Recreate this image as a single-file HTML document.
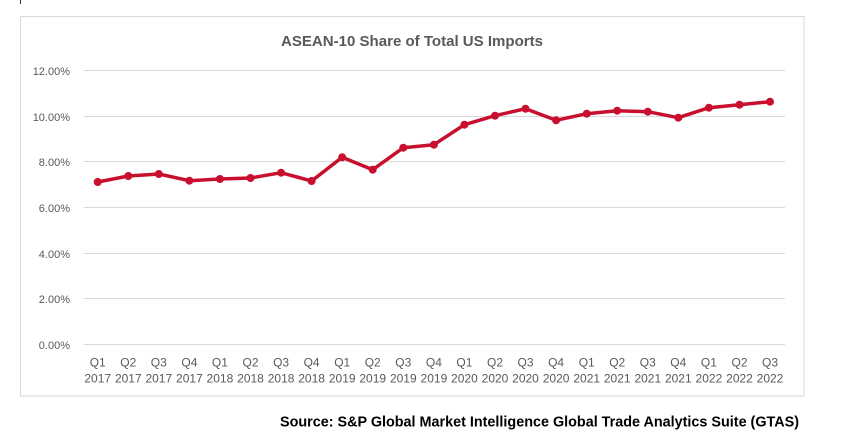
<!DOCTYPE html>
<html>
<head>
<meta charset="utf-8">
<style>
html,body{margin:0;padding:0;background:#fff;}
body{width:843px;height:440px;overflow:hidden;}
svg{display:block;}
</style>
</head>
<body>
<svg width="843" height="440" viewBox="0 0 843 440" xmlns="http://www.w3.org/2000/svg">
  <rect x="0" y="0" width="843" height="440" fill="#fff"/>
  <line x1="20.5" y1="0" x2="20.5" y2="4" stroke="#333" stroke-width="1"/>
  <rect x="20.5" y="16.5" width="783.5" height="379.5" fill="#fff" stroke="#d9d9d9" stroke-width="1"/>

  <text x="412" y="46" text-anchor="middle" font-family="Liberation Sans, sans-serif" font-weight="bold" font-size="15" fill="#595959" textLength="262" lengthAdjust="spacingAndGlyphs">ASEAN-10 Share of Total US Imports</text>

  <g stroke="#d9d9d9" stroke-width="1">
    <line x1="84" y1="70.5" x2="785" y2="70.5"/>
    <line x1="84" y1="116.5" x2="785" y2="116.5"/>
    <line x1="84" y1="161.5" x2="785" y2="161.5"/>
    <line x1="84" y1="207.5" x2="785" y2="207.5"/>
    <line x1="84" y1="253.5" x2="785" y2="253.5"/>
    <line x1="84" y1="298.5" x2="785" y2="298.5"/>
    <line x1="84" y1="344.5" x2="785" y2="344.5"/>
  </g>

  <g font-family="Liberation Sans, sans-serif" font-size="11" fill="#595959" text-anchor="end">
    <text x="70" y="75">12.00%</text>
    <text x="70" y="121">10.00%</text>
    <text x="70" y="166">8.00%</text>
    <text x="70" y="212">6.00%</text>
    <text x="70" y="258">4.00%</text>
    <text x="70" y="303">2.00%</text>
    <text x="70" y="349">0.00%</text>
  </g>

  <g font-family="Liberation Sans, sans-serif" font-size="12" fill="#595959" text-anchor="middle">
    <text x="97.7" y="366.7">Q1</text><text x="97.7" y="382.5">2017</text>
    <text x="128.3" y="366.7">Q2</text><text x="128.3" y="382.5">2017</text>
    <text x="158.8" y="366.7">Q3</text><text x="158.8" y="382.5">2017</text>
    <text x="189.4" y="366.7">Q4</text><text x="189.4" y="382.5">2017</text>
    <text x="219.9" y="366.7">Q1</text><text x="219.9" y="382.5">2018</text>
    <text x="250.5" y="366.7">Q2</text><text x="250.5" y="382.5">2018</text>
    <text x="281.1" y="366.7">Q3</text><text x="281.1" y="382.5">2018</text>
    <text x="311.6" y="366.7">Q4</text><text x="311.6" y="382.5">2018</text>
    <text x="342.2" y="366.7">Q1</text><text x="342.2" y="382.5">2019</text>
    <text x="372.7" y="366.7">Q2</text><text x="372.7" y="382.5">2019</text>
    <text x="403.3" y="366.7">Q3</text><text x="403.3" y="382.5">2019</text>
    <text x="433.9" y="366.7">Q4</text><text x="433.9" y="382.5">2019</text>
    <text x="464.4" y="366.7">Q1</text><text x="464.4" y="382.5">2020</text>
    <text x="495.0" y="366.7">Q2</text><text x="495.0" y="382.5">2020</text>
    <text x="525.5" y="366.7">Q3</text><text x="525.5" y="382.5">2020</text>
    <text x="556.1" y="366.7">Q4</text><text x="556.1" y="382.5">2020</text>
    <text x="586.7" y="366.7">Q1</text><text x="586.7" y="382.5">2021</text>
    <text x="617.2" y="366.7">Q2</text><text x="617.2" y="382.5">2021</text>
    <text x="647.8" y="366.7">Q3</text><text x="647.8" y="382.5">2021</text>
    <text x="678.3" y="366.7">Q4</text><text x="678.3" y="382.5">2021</text>
    <text x="708.9" y="366.7">Q1</text><text x="708.9" y="382.5">2022</text>
    <text x="739.5" y="366.7">Q2</text><text x="739.5" y="382.5">2022</text>
    <text x="770.0" y="366.7">Q3</text><text x="770.0" y="382.5">2022</text>
  </g>

  <polyline fill="none" stroke="#C8102E" stroke-width="3.5" stroke-linejoin="round" stroke-linecap="round"
    points="97.7,182 128.3,176 158.8,174 189.4,180.7 219.9,179 250.5,178 281.1,172.7 311.6,181 342.2,157.3 372.7,169.7 403.3,147.7 433.9,144.7 464.4,124.7 495.0,115.7 525.5,108.7 556.1,120.3 586.7,113.7 617.2,110.7 647.8,111.7 678.3,117.7 708.9,107.7 739.5,104.7 770.0,101.7"/>
  <g fill="#C8102E">
    <circle cx="97.7" cy="182" r="4"/>
    <circle cx="128.3" cy="176" r="4"/>
    <circle cx="158.8" cy="174" r="4"/>
    <circle cx="189.4" cy="180.7" r="4"/>
    <circle cx="219.9" cy="179" r="4"/>
    <circle cx="250.5" cy="178" r="4"/>
    <circle cx="281.1" cy="172.7" r="4"/>
    <circle cx="311.6" cy="181" r="4"/>
    <circle cx="342.2" cy="157.3" r="4"/>
    <circle cx="372.7" cy="169.7" r="4"/>
    <circle cx="403.3" cy="147.7" r="4"/>
    <circle cx="433.9" cy="144.7" r="4"/>
    <circle cx="464.4" cy="124.7" r="4"/>
    <circle cx="495.0" cy="115.7" r="4"/>
    <circle cx="525.5" cy="108.7" r="4"/>
    <circle cx="556.1" cy="120.3" r="4"/>
    <circle cx="586.7" cy="113.7" r="4"/>
    <circle cx="617.2" cy="110.7" r="4"/>
    <circle cx="647.8" cy="111.7" r="4"/>
    <circle cx="678.3" cy="117.7" r="4"/>
    <circle cx="708.9" cy="107.7" r="4"/>
    <circle cx="739.5" cy="104.7" r="4"/>
    <circle cx="770.0" cy="101.7" r="4"/>
  </g>

  <text x="280" y="426.5" font-family="Liberation Sans, sans-serif" font-weight="bold" font-size="14.5" fill="#000" textLength="519" lengthAdjust="spacingAndGlyphs">Source: S&amp;P Global Market Intelligence Global Trade Analytics Suite (GTAS)</text>
</svg>
</body>
</html>
